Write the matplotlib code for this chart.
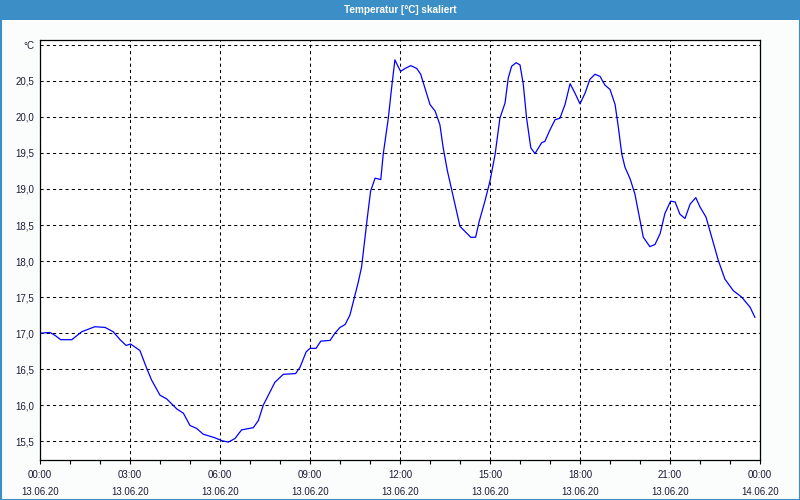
import matplotlib.pyplot as plt
from matplotlib.patches import Rectangle

plt.rcParams['font.family'] = ['Liberation Sans', 'DejaVu Sans']

# Messwerte (Stunden ab 13.06.20 00:00, Temperatur in °C)
hours = [0.0, 0.33, 0.5, 0.69, 1.06, 1.39, 1.83, 2.17, 2.44, 2.67, 2.87, 3.02,
         3.33, 3.56, 3.72, 4.0, 4.22, 4.56, 4.78, 5.0, 5.22, 5.44, 5.83, 6.06,
         6.28, 6.5, 6.72, 7.11, 7.28, 7.44, 7.83, 8.11, 8.52, 8.67, 8.87, 9.0,
         9.2, 9.36, 9.67, 9.83, 10.0, 10.17, 10.33, 10.47, 10.61, 10.72, 10.83,
         10.91, 11.02, 11.17, 11.36, 11.44, 11.61, 11.72, 11.83, 11.91, 12.02,
         12.17, 12.36, 12.56, 12.69, 12.83, 13.0, 13.17, 13.33, 13.44, 13.58,
         13.76, 14.0, 14.17, 14.36, 14.52, 14.64, 14.83, 15.0, 15.17, 15.33,
         15.5, 15.61, 15.72, 15.87, 16.0, 16.11, 16.22, 16.36, 16.5, 16.72,
         16.83, 17.0, 17.17, 17.33, 17.5, 17.67, 17.83, 18.0, 18.17, 18.33,
         18.5, 18.67, 18.83, 19.0, 19.17, 19.28, 19.39, 19.5, 19.67, 19.83,
         19.98, 20.11, 20.33, 20.5, 20.67, 20.83, 21.02, 21.17, 21.33, 21.5,
         21.67, 21.86, 22.0, 22.2, 22.39, 22.61, 22.83, 23.11, 23.39, 23.67, 23.83]
temps = [17.00, 17.01, 16.97, 16.91, 16.91, 17.02, 17.09, 17.08, 17.02, 16.91, 16.83, 16.85,
         16.76, 16.51, 16.35, 16.14, 16.09, 15.95, 15.89, 15.72, 15.68, 15.60, 15.55, 15.51,
         15.49, 15.54, 15.66, 15.69, 15.79, 16.00, 16.32, 16.43, 16.44, 16.53, 16.74, 16.79,
         16.79, 16.89, 16.90, 17.00, 17.08, 17.12, 17.25, 17.48, 17.71, 17.92, 18.32,
         18.60, 18.97, 19.15, 19.13, 19.48, 19.98, 20.40, 20.79, 20.72, 20.63,
         20.67, 20.71, 20.67, 20.59, 20.40, 20.17, 20.08, 19.89, 19.57, 19.25,
         18.92, 18.48, 18.41, 18.33, 18.33, 18.55, 18.83, 19.11, 19.48, 19.98,
         20.19, 20.54, 20.70, 20.75, 20.72, 20.45, 19.98, 19.57, 19.49, 19.64,
         19.66, 19.82, 19.96, 19.98, 20.17, 20.46, 20.33, 20.18, 20.33, 20.52,
         20.59, 20.56, 20.44, 20.38, 20.17, 19.85, 19.49, 19.30, 19.14, 18.93,
         18.61, 18.33, 18.20, 18.23, 18.38, 18.66, 18.83, 18.82, 18.65, 18.59,
         18.79, 18.88, 18.75, 18.61, 18.33, 18.01, 17.75, 17.59, 17.50, 17.36, 17.22]

tick_hours = [0, 3, 6, 9, 12, 15, 18, 21, 24]
tick_times = ['00:00', '03:00', '06:00', '09:00', '12:00', '15:00', '18:00', '21:00', '00:00']
tick_dates = ['13.06.20'] * 8 + ['14.06.20']
y_ticks = [15.5, 16.0, 16.5, 17.0, 17.5, 18.0, 18.5, 19.0, 19.5, 20.0, 20.5, 21.0]

frame_blue = '#3c8fc6'
text_col = '#1c1c38'

fig = plt.figure(figsize=(8, 5), dpi=100, facecolor='#fbfdfc')

# Titelleiste und Fensterrahmen
fig.patches.append(Rectangle((0, 1 - 20 / 500), 1, 20 / 500, transform=fig.transFigure,
                             facecolor=frame_blue, edgecolor='none', zorder=0))
fig.patches.append(Rectangle((0.5 / 800, 0.5 / 500), 1 - 1 / 800, 1 - 1 / 500,
                             transform=fig.transFigure, facecolor='none',
                             edgecolor=frame_blue, linewidth=1.5, zorder=0))
fig.text(0.5, 1 - 10 / 500, 'Temperatur [°C] skaliert', color='white',
         ha='center', va='center', fontsize=7.2, fontweight='bold')

ax = fig.add_axes([40 / 800, 40 / 500, 720 / 800, 420 / 500])
ax.set_facecolor('white')
ax.plot(hours, temps, color='#0000ff', linewidth=0.9)

ax.set_xlim(0, 24)
ax.set_ylim(15.242, 21.065)

ax.set_xticks(tick_hours)
ax.set_xticklabels([t + '\n' + d for t, d in zip(tick_times, tick_dates)],
                   linespacing=1.85, fontsize=7, color=text_col)
ax.set_xticks(range(0, 25), minor=True)
ax.tick_params(axis='x', which='both', direction='out', length=3, width=0.8,
               pad=4, color='black')

ax.set_yticks(y_ticks)
ax.set_yticklabels([('%.1f' % v).replace('.', ',') for v in y_ticks[:-1]] + ['°C'],
                   fontsize=7, color=text_col)
ax.tick_params(axis='y', length=0, pad=4)

ax.grid(True, which='major', color='black', linestyle=(0, (3, 3)), linewidth=0.75)
for s in ax.spines.values():
    s.set_linewidth(0.9)
    s.set_color('black')

fig.savefig('out.png', dpi=100, facecolor=fig.get_facecolor())
